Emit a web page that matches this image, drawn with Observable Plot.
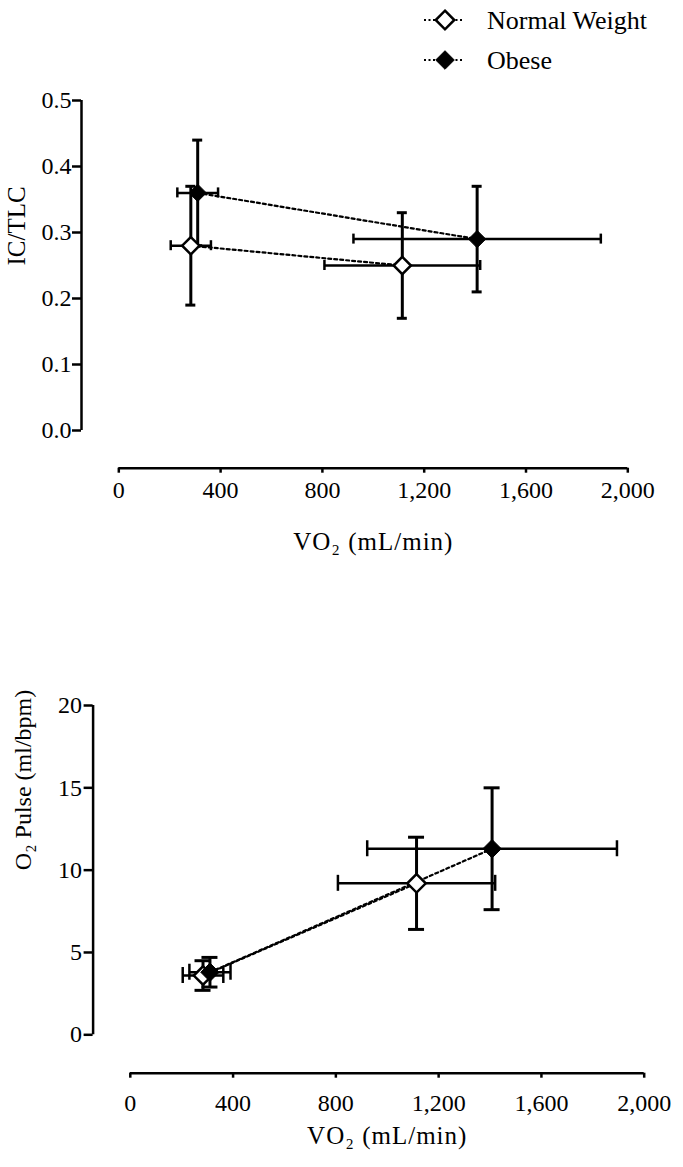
<!DOCTYPE html>
<html><head><meta charset="utf-8">
<script src="https://cdn.jsdelivr.net/npm/d3@7"></script>
<script src="https://cdn.jsdelivr.net/npm/@observablehq/plot@0.6"></script>
<style>
html,body{margin:0;padding:0;background:#fff;}
body{width:683px;height:1167px;position:relative;overflow:hidden;font-family:"Liberation Serif","Times New Roman",serif;}
#legend{position:absolute;left:0;top:0;}
#top{position:absolute;left:0;top:70px;}
#bottom{position:absolute;left:0;top:650px;}
</style></head><body>
<svg id="legend" width="683" height="80"></svg>
<div id="top"></div>
<div id="bottom"></div>
<script>
// ---- data ----
const groups = ["Normal Weight", "Obese"];
const phases = ["Rest", "Peak"];
const vo2NW = [283, 1114];
const vo2NWsd = [79, 306];
const vo2OB = [310, 1408];
const vo2OBsd = [80, 486];
const icNW = [0.28, 0.25];
const icNWsd = [0.09, 0.08];
const icOB = [0.36, 0.29];
const icOBsd = [0.08, 0.08];
const o2NW = [3.6, 9.2];
const o2NWsd = [0.9, 2.8];
const o2OB = [3.8, 11.3];
const o2OBsd = [0.9, 3.7];
const xTicks = [0, 400, 800, 1200, 1600, 2000];
const icTicks = [0, 0.1, 0.2, 0.3, 0.4, 0.5];
const o2Ticks = [0, 5, 10, 15, 20];
const xLabel = "VO₂ (mL/min)";
const icLabel = "IC/TLC";
const o2Label = "O₂ Pulse (ml/bpm)";

function buildRows(yNW, yNWsd, yOB, yOBsd) {
  const out = [];
  phases.forEach((p, i) => {
    out.push({group: groups[0], phase: p, x: vo2NW[i], xe: vo2NWsd[i], y: yNW[i], ye: yNWsd[i]});
    out.push({group: groups[1], phase: p, x: vo2OB[i], xe: vo2OBsd[i], y: yOB[i], ye: yOBsd[i]});
  });
  return out;
}

const FONT = '"Liberation Serif","Times New Roman",serif';

function chart(c) {
  const data = c.data;
  const svg = Plot.plot({
    width: 683, height: c.height,
    marginTop: c.marginTop, marginBottom: c.marginBottom, marginLeft: c.marginLeft, marginRight: c.marginRight,
    style: {fontFamily: FONT, fontSize: "24px", color: "black", background: "white", overflow: "visible"},
    x: {domain: [0, 2000], axis: null},
    y: {domain: c.yDomain, axis: null},
    marks: [
      Plot.ruleX([0], {y1: c.yDomain[0], y2: c.yDomain[1], dx: c.axisDx, strokeWidth: 2.5}),
      Plot.axisY(c.yTicks, {anchor: "left", tickFormat: c.yFormat, tickSize: c.yTickSize, tickPadding: c.yTickPad, dx: c.axisDx, strokeWidth: 2.5, fontSize: 24, label: null}),
      Plot.ruleY([0], {x1: 0, x2: 2000, dy: c.axisDy, strokeWidth: 2.5}),
      Plot.axisX(xTicks, {anchor: "bottom", tickFormat: d3.format(","), tickSize: 5, tickPadding: c.xTickPad, dy: c.axisDy, strokeWidth: 2.5, fontSize: 24, label: null}),
      Plot.text([xLabel], {frameAnchor: "bottom", dy: c.xTitleDy, fontSize: 25, lineAnchor: "middle", fill: "black"}),
      Plot.text([c.yLabel], {frameAnchor: "left", dx: c.yTitleDx, rotate: -90, fontSize: c.yTitleSize, lineAnchor: "middle", fill: "black"}),
      Plot.line(data, {x: "x", y: "y", z: "group", stroke: "black", strokeWidth: 2.2, strokeDasharray: "3,3"}),
      // vertical error bars
      Plot.ruleX(data, {x: "x", y1: d => d.y - d.ye, y2: d => d.y + d.ye, strokeWidth: 3}),
      Plot.ruleY(data, {y: d => d.y + d.ye, x1: "x", x2: "x", insetLeft: -c.cap, insetRight: -c.cap, strokeWidth: 3}),
      Plot.ruleY(data, {y: d => d.y - d.ye, x1: "x", x2: "x", insetLeft: -c.cap, insetRight: -c.cap, strokeWidth: 3}),
      // horizontal error bars
      Plot.ruleY(data, {y: "y", x1: d => d.x - d.xe, x2: d => d.x + d.xe, strokeWidth: 2.5}),
      Plot.ruleX(data, {x: d => d.x - d.xe, y1: "y", y2: "y", insetTop: -c.cap, insetBottom: -c.cap, strokeWidth: 2.5}),
      Plot.ruleX(data, {x: d => d.x + d.xe, y1: "y", y2: "y", insetTop: -c.cap, insetBottom: -c.cap, strokeWidth: 2.5}),
      // markers
      Plot.dot(data.filter(d => d.group === groups[0]), {x: "x", y: "y", symbol: "diamond2", r: c.r, fill: "white", stroke: "black", strokeWidth: 2.5}),
      Plot.dot(data.filter(d => d.group === groups[1]), {x: "x", y: "y", symbol: "diamond2", r: c.r, fill: "black", stroke: "black", strokeWidth: 1})
    ]
  });
  d3.select(svg).selectAll("text").filter(function() { return this.textContent === xLabel; })
    .attr("letter-spacing", "1px");
  return svg;
}

document.getElementById("top").append(chart({
  data: buildRows(icNW, icNWsd, icOB, icOBsd),
  yDomain: [0, 0.5], yTicks: icTicks, yFormat: ".1f", yLabel: icLabel, yTitleSize: 25,
  height: 500, marginTop: 30, marginBottom: 140, marginLeft: 118.3, marginRight: 55.7,
  axisDx: -37.3, axisDy: 37.7, yTickSize: 9, yTickPad: 1, xTickPad: 8,
  xTitleDy: 111, yTitleDx: -102.3, cap: 5, r: 7.8
}));

document.getElementById("bottom").append(chart({
  data: buildRows(o2NW, o2NWsd, o2OB, o2OBsd),
  yDomain: [0, 20], yTicks: o2Ticks, yFormat: "d", yLabel: o2Label, yTitleSize: 24,
  height: 517, marginTop: 55, marginBottom: 132.7, marginLeft: 129.8, marginRight: 39.3,
  axisDx: -37.2, axisDy: 38.4, yTickSize: 9, yTickPad: 2, xTickPad: 16,
  xTitleDy: 101, yTitleDx: -107, cap: 8, r: 8.3
}));

// ---- legend ----
const leg = d3.select("#legend");
groups.forEach((g, i) => {
  const cy = 20 + i * 40;
  leg.append("line").attr("x1", 424).attr("x2", 464).attr("y1", cy).attr("y2", cy)
    .attr("stroke", "black").attr("stroke-width", 2).attr("stroke-dasharray", "2,2.5");
  leg.append("path").attr("d", d3.symbol(d3.symbolDiamond2, 220)())
    .attr("transform", `translate(445,${cy})`)
    .attr("fill", i === 0 ? "white" : "black").attr("stroke", "black").attr("stroke-width", i === 0 ? 2.5 : 1);
  leg.append("text").attr("x", 487).attr("y", cy + 8.7).text(g)
    .attr("font-family", FONT).attr("font-size", 26).attr("fill", "black");
});
</script>
</body></html>
